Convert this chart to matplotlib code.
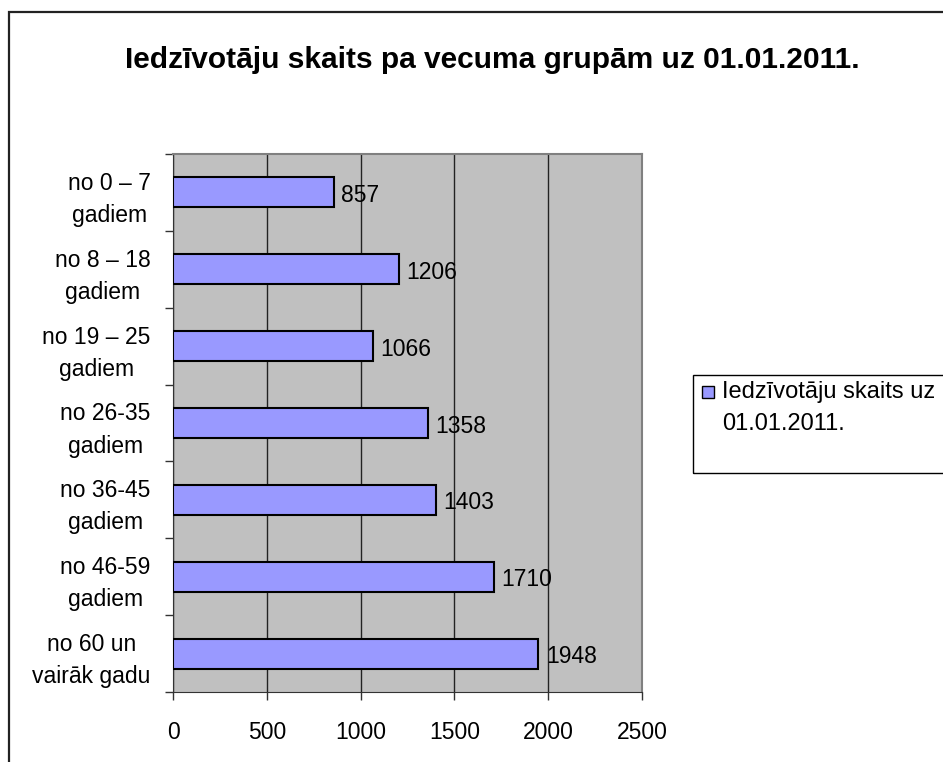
import matplotlib.pyplot as plt
from matplotlib.patches import Rectangle

plt.rcParams['font.family'] = ['Liberation Sans', 'DejaVu Sans']

# age groups, top to bottom as in the chart
groups = ["no 0 \u2013 7\ngadiem", "no 8 \u2013 18\ngadiem", "no 19 \u2013 25\ngadiem",
          "no 26-35\ngadiem", "no 36-45\ngadiem", "no 46-59\ngadiem",
          "no 60 un\nvair\u0101k gadu"]
counts = [857, 1206, 1066, 1358, 1403, 1710, 1948]
xticks = [0, 500, 1000, 1500, 2000, 2500]

title = "Iedz\u012bvot\u0101ju skaits pa vecuma grup\u0101m uz 01.01.2011."
series_name = "Iedz\u012bvot\u0101ju skaits uz"
series_name2 = "01.01.2011."

FS = 16.5
W, H = 943, 762
fig = plt.figure(figsize=(W / 100, H / 100), dpi=100)

def fx(px):
    return px / W

def fy(px):
    return 1 - px / H

# outer chart border (runs off the right and bottom edge)
fig.patches.append(Rectangle((fx(9), -0.05), 1.1, fy(12) + 0.05,
                             transform=fig.transFigure, fill=False,
                             edgecolor='#222222', lw=1.6))

ax = fig.add_axes([fx(173), fy(692), (642 - 173) / W, (692 - 154) / H])
ax.set_facecolor('#C0C0C0')

n = len(groups)
pos = [n - 1 - i for i in range(n)]
ax.barh(pos, counts, height=0.39, color='#9999FF', edgecolor='black', lw=1.5, zorder=3)
for p, v in zip(pos, counts):
    ax.text(v + 40, p - 0.04, str(v), va='center', ha='left', fontsize=FS, zorder=4)

ax.set_xlim(0, 2500)
ax.set_ylim(-0.5, n - 0.5)
ax.set_xticks(xticks)
ax.set_xticklabels([str(t) for t in xticks], fontsize=FS)
ax.tick_params(axis='x', length=6, width=1, pad=15, direction='out', color='#333333')
ax.grid(axis='x', color='#222222', lw=1, zorder=1)

# ticks between categories, labels at the middle
ax.set_yticks([i - 0.5 for i in range(n + 1)])
ax.set_yticklabels([])
ax.tick_params(axis='y', which='major', length=6, width=1, direction='out', color='#333333')
ax.set_yticks(pos, groups, minor=True)
ax.tick_params(axis='y', which='minor', length=0, pad=16, labelsize=FS)
for lab in ax.get_yticklabels(minor=True):
    lab.set_horizontalalignment('right')
    lab.set_multialignment('center')
    lab.set_linespacing(1.5)

for s in ['top', 'right']:
    ax.spines[s].set_color('#808080')
    ax.spines[s].set_linewidth(1.5)
for s in ['left', 'bottom']:
    ax.spines[s].set_color('#333333')

fig.text(fx(492), fy(60), title, ha='center', va='center',
         fontsize=21.5, fontweight='bold')

# legend box drawn by hand
fig.patches.append(Rectangle((fx(693), fy(473)), 0.5, (473 - 375) / H,
                             transform=fig.transFigure, fill=False,
                             edgecolor='black', lw=1))
fig.patches.append(Rectangle((fx(702), fy(398)), 12 / W, 12 / H,
                             transform=fig.transFigure, facecolor='#9999FF',
                             edgecolor='black', lw=1))
fig.text(fx(722), fy(392), series_name, ha='left', va='center', fontsize=FS + 0.5)
fig.text(fx(722), fy(424), series_name2, ha='left', va='center', fontsize=FS + 0.5)

fig.savefig('out.png', dpi=100)
